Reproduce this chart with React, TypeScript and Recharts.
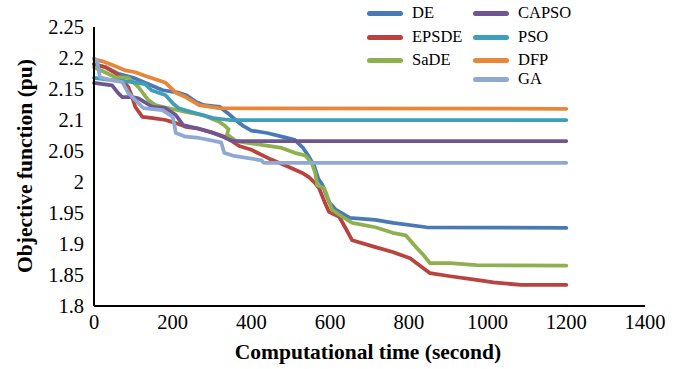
import React from 'react';
import { LineChart, Line, XAxis, YAxis } from 'recharts';

const xTicks = [0, 200, 400, 600, 800, 1000, 1200, 1400];
const yTicks = [1.8, 1.85, 1.9, 1.95, 2, 2.05, 2.1, 2.15, 2.2, 2.25];

// computational time (s) / objective value (pu)
const deTime = [0, 30, 60, 100, 130, 175, 215, 235, 260, 280, 320, 340, 360, 380, 400, 440, 485, 510, 530, 545, 560, 570, 580, 597, 613, 650, 715, 760, 845, 1200];
const deValue = [2.19, 2.185, 2.175, 2.168, 2.16, 2.148, 2.144, 2.14, 2.129, 2.124, 2.121, 2.111, 2.1, 2.09, 2.083, 2.079, 2.072, 2.068, 2.056, 2.042, 2.025, 2.005, 1.996, 1.968, 1.956, 1.942, 1.939, 1.934, 1.927, 1.926];

const epsdeTime = [0, 30, 54, 72, 87, 97, 105, 123, 150, 182, 208, 233, 267, 300, 336, 369, 400, 444, 485, 528, 546, 562, 572, 587, 597, 623, 638, 656, 715, 759, 803, 854, 905, 972, 1015, 1085, 1200];
const epsdeValue = [2.19, 2.185, 2.176, 2.165, 2.153, 2.137, 2.121, 2.105, 2.103, 2.1, 2.095, 2.089, 2.086, 2.08, 2.072, 2.058, 2.052, 2.038, 2.027, 2.015, 2.008, 1.998, 1.99, 1.966, 1.952, 1.944, 1.927, 1.906, 1.895, 1.887, 1.877, 1.853, 1.848, 1.842, 1.838, 1.834, 1.834];

const sadeTime = [0, 28, 54, 87, 113, 138, 156, 190, 233, 277, 318, 330, 342, 338, 360, 426, 477, 510, 536, 553, 562, 567, 585, 605, 631, 656, 715, 759, 792, 818, 836, 854, 905, 972, 1200];
const sadeValue = [2.185, 2.177, 2.169, 2.168, 2.153, 2.132, 2.124, 2.119, 2.113, 2.108, 2.097, 2.092, 2.085, 2.077, 2.066, 2.06, 2.055, 2.047, 2.043, 2.031, 2.015, 1.995, 1.99, 1.955, 1.944, 1.934, 1.927, 1.918, 1.914, 1.895, 1.883, 1.869, 1.869, 1.866, 1.865];

const capsoTime = [0, 46, 62, 72, 97, 113, 149, 182, 208, 226, 259, 303, 328, 344, 360, 1200];
const capsoValue = [2.16, 2.156, 2.143, 2.137, 2.137, 2.135, 2.121, 2.119, 2.108, 2.092, 2.087, 2.079, 2.073, 2.068, 2.066, 2.066];

const psoTime = [0, 50, 100, 130, 146, 182, 200, 215, 259, 303, 344, 1200];
const psoValue = [2.168, 2.164, 2.161, 2.158, 2.148, 2.14, 2.127, 2.119, 2.111, 2.103, 2.1, 2.1];

const dfpTime = [0, 20, 50, 80, 105, 131, 160, 182, 208, 233, 267, 318, 1200];
const dfpValue = [2.198, 2.195, 2.188, 2.18, 2.177, 2.171, 2.165, 2.16, 2.144, 2.137, 2.124, 2.119, 2.118];

const gaTime = [0, 8, 15, 40, 72, 87, 105, 126, 174, 200, 208, 233, 267, 323, 331, 356, 426, 431, 1200];
const gaValue = [2.2, 2.195, 2.169, 2.165, 2.161, 2.144, 2.132, 2.119, 2.116, 2.105, 2.079, 2.073, 2.071, 2.064, 2.047, 2.042, 2.035, 2.031, 2.031];

const toPoints = (time: number[], value: number[]) => time.map((t, i) => ({ t, v: value[i] }));

const SERIES = [
  { name: 'DE', color: '#4A7AB5', data: toPoints(deTime, deValue) },
  { name: 'EPSDE', color: '#B8433F', data: toPoints(epsdeTime, epsdeValue) },
  { name: 'SaDE', color: '#8FB04E', data: toPoints(sadeTime, sadeValue) },
  { name: 'CAPSO', color: '#6F5592', data: toPoints(capsoTime, capsoValue) },
  { name: 'PSO', color: '#3F9FB8', data: toPoints(psoTime, psoValue) },
  { name: 'DFP', color: '#E8863A', data: toPoints(dfpTime, dfpValue) },
  { name: 'GA', color: '#90A9D3', data: toPoints(gaTime, gaValue) },
];

// legend slots: [left of swatch, vertical centre]
const LEGEND_POS: Record<string, [number, number]> = {
  DE: [367, 13],
  EPSDE: [367, 37],
  SaDE: [367, 60],
  CAPSO: [473, 13],
  PSO: [473, 37],
  DFP: [473, 60],
  GA: [473, 79],
};

const FONT = 'Liberation Serif, DejaVu Serif, serif';

export default function App() {
  return (
    <div style={{ position: 'absolute', left: 0, top: 0, width: 683, height: 369, background: '#fff', fontFamily: FONT }}>
      <LineChart width={683} height={369} margin={{ top: 27, right: 38, bottom: 0, left: 0 }} style={{ fontFamily: FONT }}>
        <XAxis
          type="number"
          dataKey="t"
          domain={[0, 1400]}
          ticks={xTicks}
          height={63}
          tickSize={0}
          tickMargin={8}
          axisLine={{ stroke: '#000', strokeWidth: 2 }}
          tick={{ fill: '#000', fontSize: 20.5, fontFamily: FONT }}
        />
        <YAxis
          type="number"
          domain={[1.8, 2.25]}
          ticks={yTicks}
          width={94}
          tickSize={0}
          tickMargin={10}
          axisLine={{ stroke: '#000', strokeWidth: 2 }}
          tick={{ fill: '#000', fontSize: 20.5, fontFamily: FONT }}
          tickFormatter={(v: number) => String(v)}
        />
        {SERIES.map((s) => (
          <Line
            key={s.name}
            data={s.data}
            dataKey="v"
            name={s.name}
            type="linear"
            stroke={s.color}
            strokeWidth={3.75}
            strokeLinecap="round"
            strokeLinejoin="round"
            dot={false}
            activeDot={false}
            isAnimationActive={false}
          />
        ))}
      </LineChart>

      {SERIES.map((s) => {
        const [lx, ly] = LEGEND_POS[s.name];
        return (
          <div key={s.name} style={{ position: 'absolute', left: lx, top: ly - 10, height: 20, display: 'flex', alignItems: 'center' }}>
            <div style={{ width: 36, height: 5, borderRadius: 2.5, background: s.color }} />
            <span style={{ marginLeft: 9, fontSize: 16.5, color: '#000', lineHeight: '20px' }}>{s.name}</span>
          </div>
        );
      })}

      <div
        style={{
          position: 'absolute',
          left: 368,
          top: 352,
          transform: 'translate(-50%, -50%)',
          fontSize: 21.5,
          fontWeight: 'bold',
          whiteSpace: 'nowrap',
          color: '#000',
        }}
      >
        Computational time (second)
      </div>
      <div
        style={{
          position: 'absolute',
          left: 25,
          top: 166,
          transform: 'translate(-50%, -50%) rotate(-90deg)',
          fontSize: 21.5,
          fontWeight: 'bold',
          whiteSpace: 'nowrap',
          color: '#000',
        }}
      >
        Objective function (pu)
      </div>
    </div>
  );
}
